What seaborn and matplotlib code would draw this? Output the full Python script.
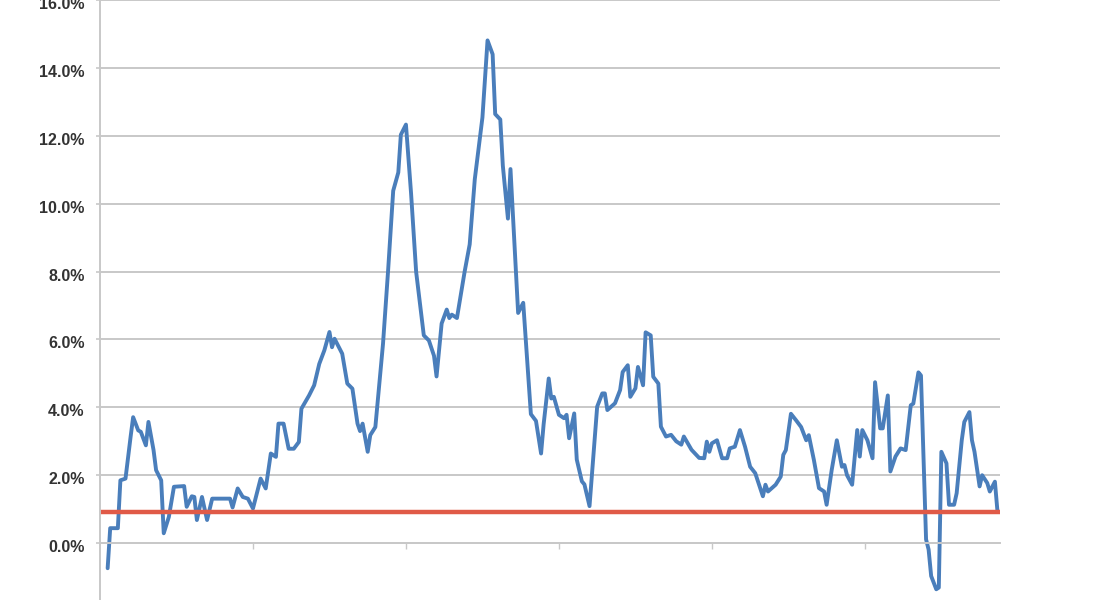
import matplotlib
matplotlib.use("Agg")
import matplotlib.pyplot as plt
import matplotlib.transforms as mtransforms
from matplotlib.ticker import FuncFormatter
import pandas as pd
import seaborn as sns

months = [3, 4, 7, 8, 10, 12, 13, 15, 16, 18, 19, 21, 22, 24, 25, 27, 29, 33, 34, 36,
          37, 38, 40, 42, 44, 51, 52, 54, 56, 58, 60, 63, 65, 67, 69, 70, 72, 74, 76, 78,
          79, 82, 84, 86, 88, 90, 91, 92, 95, 97, 99, 101, 102, 103, 105, 106, 108, 111, 113, 115,
          117, 118, 120, 122, 124, 127, 129, 131, 132, 134, 136, 137, 138, 140, 143, 145, 147, 150, 152, 154,
          155, 157, 158, 160, 161, 164, 166, 169, 171, 173, 174, 176, 177, 178, 180, 182, 183, 184, 186, 187,
          189, 190, 192, 194, 195, 197, 198, 199, 202, 204, 205, 207, 208, 210, 211, 213, 214, 216, 217, 219,
          220, 222, 224, 226, 228, 229, 232, 235, 237, 238, 239, 240, 242, 244, 246, 247, 249, 251, 253, 255,
          257, 260, 261, 262, 265, 267, 268, 269, 271, 273, 275, 277, 278, 280, 282, 284, 285, 287, 289, 291,
          292, 293, 295, 297, 298, 299, 301, 303, 304, 306, 307, 309, 310, 312, 314, 316, 318, 319, 321, 322,
          324, 325, 326, 328, 329, 330, 332, 333, 335, 336, 338, 339, 341, 342, 343, 345, 346, 348, 349, 351,
          352]
rate = [-0.74, 0.44, 0.44, 1.85, 1.90, 3.13, 3.71, 3.32, 3.28, 2.88, 3.57, 2.74, 2.15, 1.85, 0.29, 0.77, 1.66, 1.68, 1.07, 1.38,
        1.36, 0.68, 1.36, 0.68, 1.31, 1.31, 1.05, 1.61, 1.36, 1.31, 1.02, 1.90, 1.61, 2.64, 2.54, 3.52, 3.52, 2.78, 2.78, 2.98,
        3.96, 4.35, 4.65, 5.28, 5.68, 6.22, 5.77, 6.02, 5.58, 4.70, 4.55, 3.52, 3.30, 3.52, 2.69, 3.18, 3.42, 5.87, 8.03, 10.38,
        10.92, 12.03, 12.33, 10.31, 7.99, 6.12, 5.97, 5.52, 4.91, 6.47, 6.88, 6.63, 6.73, 6.63, 7.99, 8.80, 10.72, 12.54, 14.81, 14.40,
        12.64, 12.48, 11.12, 9.56, 11.02, 6.78, 7.08, 3.80, 3.60, 2.64, 3.50, 4.85, 4.26, 4.31, 3.78, 3.68, 3.78, 3.09, 3.82, 2.46,
        1.82, 1.73, 1.09, 3.04, 4.02, 4.41, 4.41, 3.92, 4.12, 4.51, 5.04, 5.24, 4.31, 4.56, 5.19, 4.65, 6.21, 6.12, 4.90, 4.70,
        3.43, 3.14, 3.19, 3.00, 2.90, 3.14, 2.75, 2.51, 2.50, 2.99, 2.69, 2.94, 3.03, 2.50, 2.50, 2.79, 2.84, 3.33, 2.84, 2.25,
        2.06, 1.38, 1.72, 1.52, 1.72, 1.96, 2.60, 2.74, 3.81, 3.62, 3.42, 3.03, 3.18, 2.45, 1.62, 1.52, 1.13, 2.16, 3.03, 2.25,
        2.30, 2.00, 1.72, 3.33, 2.55, 3.33, 3.03, 2.50, 4.74, 3.38, 3.38, 4.35, 2.11, 2.55, 2.79, 2.74, 4.06, 4.11, 5.03, 4.94,
        0.11, -0.19, -0.97, -1.36, -1.31, 2.69, 2.35, 1.13, 1.13, 1.47, 3.03, 3.57, 3.86, 3.03, 2.69, 1.67, 2.00, 1.77, 1.52, 1.81,
        0.94]

target = 0.93
y_ticks = [0, 2, 4, 6, 8, 10, 12, 14, 16]
x_ticks = [60, 120, 180, 240, 300]

df = pd.DataFrame({"month": months, "rate": rate})

sns.set_theme(style="white")
plt.rcParams["font.family"] = ["Liberation Sans", "DejaVu Sans"]

fig, ax = plt.subplots(figsize=(10.95, 6), dpi=100)
fig.subplots_adjust(left=100 / 1095, right=1000 / 1095, bottom=0, top=1)

ax.yaxis.grid(True, color="#c8c8c8", linewidth=1.4)
ax.set_axisbelow(True)

sns.lineplot(data=df, x="month", y="rate", color="#4a7ebb", linewidth=2.8, ax=ax)
ax.axhline(target, color="#e05a47", linewidth=3.2)

ax.set_xlim(0, 353)
ax.set_ylim(-1.676, 16)
ax.set_yticks(y_ticks)
ax.yaxis.set_major_formatter(FuncFormatter(lambda v, p: f"{v:.1f}%"))
ax.set_xticks(x_ticks)
ax.set_xticklabels([])
ax.set_xlabel("")
ax.set_ylabel("")

for s in ["top", "right"]:
    ax.spines[s].set_visible(False)
ax.spines["left"].set_color("#c8c8c8")
ax.spines["left"].set_linewidth(1.4)
ax.spines["bottom"].set_position(("data", 0))
ax.spines["bottom"].set_color("#c8c8c8")
ax.spines["bottom"].set_linewidth(1.4)

ax.tick_params(axis="y", direction="out", length=3, width=1.2, color="#c8c8c8",
               pad=8, labelsize=11.5, labelcolor="#333333")
ax.tick_params(axis="x", direction="out", length=4, width=1.0, color="#c8c8c8")
ax.tick_params(axis="both", which="both", left=True, bottom=True)

offset = mtransforms.ScaledTranslation(0, -3 / 100, fig.dpi_scale_trans)
for lab in ax.get_yticklabels():
    lab.set_transform(lab.get_transform() + offset)
    lab.set_fontweight("bold")

fig.savefig("out.png", dpi=100)
